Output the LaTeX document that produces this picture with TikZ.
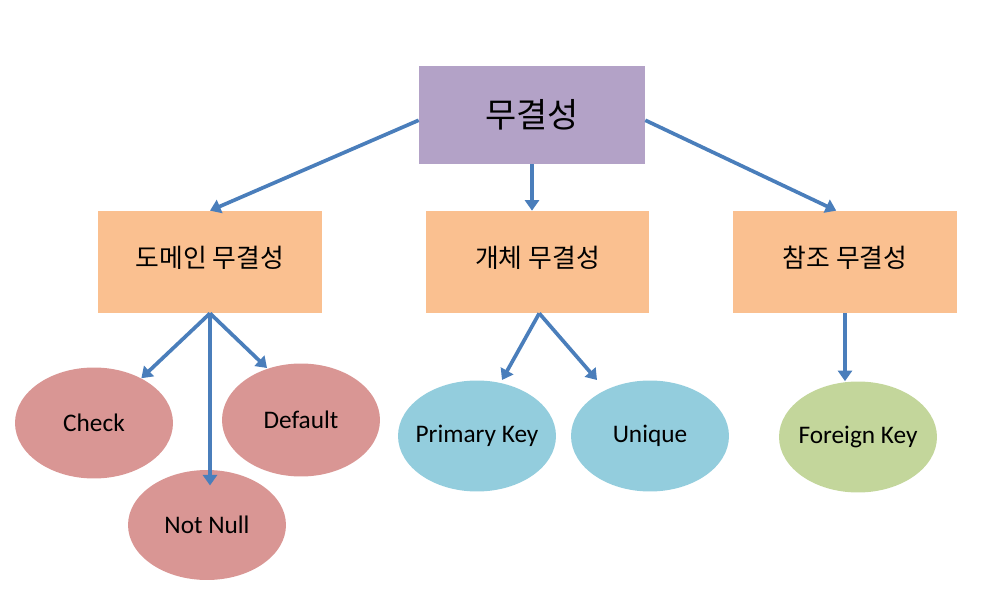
\documentclass[tikz,border=0pt]{standalone}
\usepackage{fontspec}
\setmainfont{Carlito}
\newfontfamily\kr{Noto Sans CJK KR}
\usetikzlibrary{arrows.meta,shapes.geometric}
\definecolor{topfill}{HTML}{B3A2C7}
\definecolor{boxfill}{HTML}{FAC090}
\definecolor{redfill}{HTML}{D99694}
\definecolor{bluefill}{HTML}{93CDDD}
\definecolor{greenfill}{HTML}{C3D69B}
\definecolor{arrowblue}{HTML}{4A7EBB}
\newcommand{\zw}[1]{\makebox[0pt]{#1}}
\tikzset{
  topbox/.style={rectangle, fill=topfill, minimum width=4.52cm, minimum height=1.96cm, inner sep=0pt, font=\kr\fontsize{19.3}{22}\selectfont},
  midbox/.style={rectangle, fill=boxfill, minimum width=4.48cm, minimum height=2.04cm, inner sep=0pt, text depth=0.55em, font=\kr\fontsize{14.7}{17}\selectfont},
  oval/.style={ellipse, minimum width=3.16cm, minimum height=2.22cm, inner sep=0pt, font=\fontsize{14.4}{17}\selectfont},
  arr/.style={draw=arrowblue, line width=2.1pt, -{Triangle[length=6pt,width=8pt]}}
}
\begin{document}
\begin{tikzpicture}[x=0.02cm,y=-0.02cm]
\useasboundingbox (0,0) rectangle (992,612);
\node[topbox] (top) at (532,115) {무결성};
\node[midbox] (dom) at (210,262) {도메인 무결성};
\node[midbox] (ent) at (537.5,262) {개체 무결성};
\node[midbox] (ref) at (845,262) {참조 무결성};
\node[oval, fill=redfill] (chk) at (94,423) {\zw{Check}};
\node[oval, fill=redfill, minimum height=2.26cm] (dft) at (301,420) {\zw{Default}};
\node[oval, fill=redfill, minimum height=2.2cm] (nn) at (207,525) {\zw{Not Null}};
\node[oval, fill=bluefill] (pk) at (477,436) {\zw{Primary Key}};
\node[oval, fill=bluefill] (uni) at (650,436) {\zw{Unique}};
\node[oval, fill=greenfill] (fk) at (858,437) {\zw{Foreign Key}};
\coordinate (topL) at ([yshift=-3]top.west);
\coordinate (topR) at ([yshift=-3]top.east);
\coordinate (topB) at (top.south);
\coordinate (domB) at (dom.south);
\coordinate (entB) at ([xshift=1]ent.south);
\coordinate (refB) at (ref.south);
\coordinate (entT) at (top.south |- ent.north);
\coordinate (refT) at ([xshift=-5]ref.north);
\coordinate (nnT) at ([yshift=-9]domB |- nn.north);
\coordinate (pkT) at (502,380);
\coordinate (uniT) at (597,380);
\coordinate (dftT) at (267,368);
\coordinate (fkT) at (refB |- fk.north);
\draw[arr] (topL) -- (dom.north);
\draw[arr] (topB) -- (entT);
\draw[arr] (topR) -- (refT);
\draw[arr] (domB) -- (chk);
\draw[arr] (domB) -- (nnT);
\draw[arr] (domB) -- (dftT);
\draw[arr] (entB) -- (pkT);
\draw[arr] (entB) -- (uniT);
\draw[arr] (refB) -- (fkT);
\end{tikzpicture}
\end{document}
